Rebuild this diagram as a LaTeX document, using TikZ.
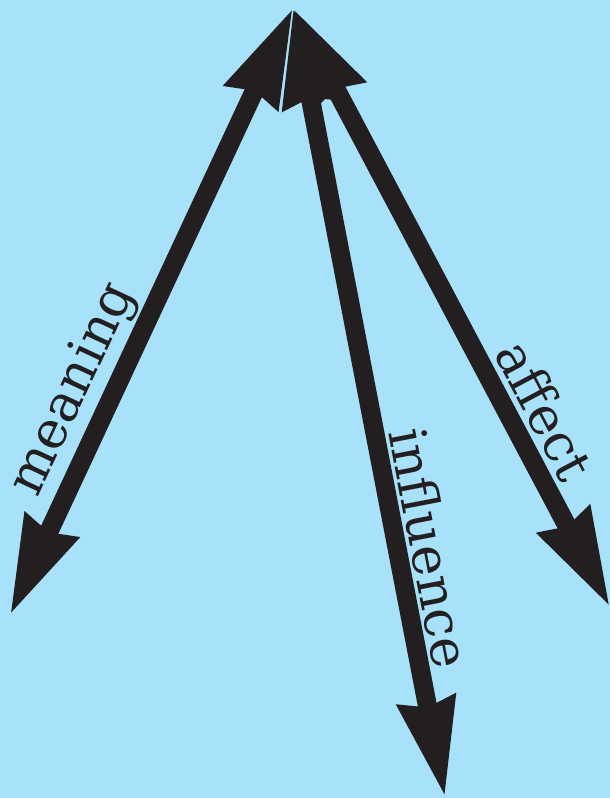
\documentclass[tikz,border=0pt]{standalone}
\usepackage{fontspec}
\setmainfont{DejaVu Serif}
\usetikzlibrary{arrows.meta}
\definecolor{bgblue}{RGB}{167,225,250}
\definecolor{ink}{RGB}{35,31,32}
\begin{document}
\begin{tikzpicture}[x=1pt,y=1pt,
  arr/.style={draw=ink, line width=19pt,
    {Stealth[length=97pt,width=56pt,inset=6pt]}-{Stealth[length=97pt,width=56pt,inset=6pt]}},
  lbl/.style={text=ink, font=\fontsize{52}{56}\selectfont, inner sep=0pt}]
\fill[bgblue] (0,0) rectangle (610,-798);
\useasboundingbox (0,0) rectangle (610,-798);
\coordinate (top) at (293,-8);
\coordinate (mb) at (10,-615);
\coordinate (ib) at (445,-797);
\coordinate (ab) at (610,-607);
\draw[arr] (mb) -- (top);
\draw[arr] (ib) -- (top);
\draw[arr] (ab) -- (top);
\node[lbl, rotate=65] (lm) at (74,-390) {meaning};
\node[lbl, rotate=-79.1] (li) at (430,-548) {influence};
\node[lbl, rotate=-62.1] (la) at (545,-410) {affect};
\end{tikzpicture}
\end{document}
